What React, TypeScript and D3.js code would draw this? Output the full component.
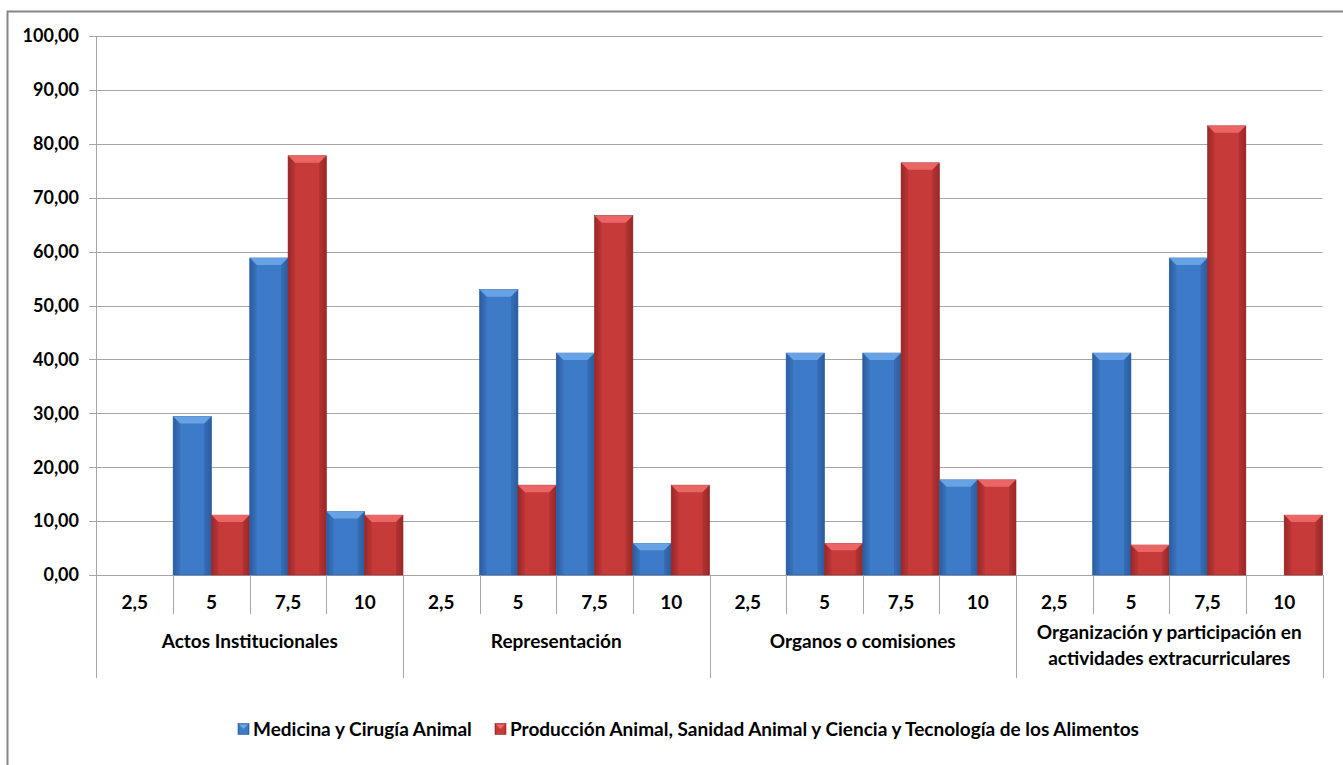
import React from "react";
import * as d3 from "d3";

const groups = [
  ["Actos Institucionales"],
  ["Representación"],
  ["Organos o comisiones"],
  ["Organización y participación en", "actividades extracurriculares"],
];
const subcats = ["2,5", "5", "7,5", "10"];
const seriesNames = [
  "Medicina y Cirugía Animal",
  "Producción Animal, Sanidad Animal y Ciencia y Tecnología de los Alimentos",
];
// values per group, per subcategory
const medicina = [
  [0, 29.41, 58.82, 11.76],
  [0, 52.94, 41.18, 5.88],
  [0, 41.18, 41.18, 17.65],
  [0, 41.18, 58.82, 0],
];
const produccion = [
  [0, 11.11, 77.78, 11.11],
  [0, 16.67, 66.67, 16.67],
  [0, 5.88, 76.47, 17.65],
  [0, 5.56, 83.33, 11.11],
];
const yTicks = [0, 10, 20, 30, 40, 50, 60, 70, 80, 90, 100];

const W = 1343;
const H = 765;
const left = 96.5;
const right = 1322.5;
const top = 36;
const bottom = 575;
const font = "Lato, 'Open Sans', sans-serif";

export default function App() {
  const y = d3.scaleLinear().domain([0, 100]).range([bottom, top]);
  const gx = d3
    .scaleBand<number>()
    .domain(d3.range(groups.length))
    .range([left, right])
    .padding(0);
  const sx = d3
    .scaleBand<number>()
    .domain(d3.range(subcats.length))
    .range([0, gx.bandwidth()])
    .padding(0);
  const bx = d3
    .scaleBand<number>()
    .domain([0, 1])
    .range([0, sx.bandwidth()])
    .padding(0);

  const series = [medicina, produccion];
  const colors = [
    { id: "gBlue", edge: "#2B5C9E", mid: "#3D7BC8", light: "#6CA6E8", stroke: "#2E5F9F" },
    { id: "gRed", edge: "#9A2727", mid: "#C63A3A", light: "#EE6A6A", stroke: "#962A2A" },
  ];

  const bars: JSX.Element[] = [];
  groups.forEach((_, gi) => {
    subcats.forEach((_, si) => {
      series.forEach((s, k) => {
        const v = s[gi][si];
        if (v <= 0) return;
        const x0 = (gx(gi) as number) + (sx(si) as number) + (bx(k) as number);
        const w = bx.bandwidth();
        const y0 = y(v);
        const h = y(0) - y0;
        const bev = Math.min(7, h / 2);
        const c = colors[k];
        bars.push(
          <g key={`${gi}-${si}-${k}`}>
            <rect x={x0} y={y0} width={w} height={h} fill={`url(#${c.id})`} stroke={c.stroke} strokeWidth={0.6} />
            <path
              d={`M${x0},${y0} L${x0 + w},${y0} L${x0 + w - bev},${y0 + bev} L${x0 + bev},${y0 + bev} Z`}
              fill={c.light}
              opacity={0.9}
            />
            <path
              d={`M${x0},${y0} L${x0 + bev},${y0 + bev} L${x0 + bev},${y0 + h} L${x0},${y0 + h} Z`}
              fill={c.edge}
              opacity={0.35}
            />
            <path
              d={`M${x0 + w},${y0} L${x0 + w - bev},${y0 + bev} L${x0 + w - bev},${y0 + h} L${x0 + w},${y0 + h} Z`}
              fill={c.edge}
              opacity={0.5}
            />
          </g>
        );
      });
    });
  });

  return (
    <svg width={W} height={H} style={{ position: "absolute", left: 0, top: 0, background: "#fff" }}>
      <defs>
        {colors.map((c) => (
          <linearGradient key={c.id} id={c.id} x1="0" x2="1" y1="0" y2="0">
            <stop offset="0" stopColor={c.edge} />
            <stop offset="0.15" stopColor={c.mid} />
            <stop offset="0.85" stopColor={c.mid} />
            <stop offset="1" stopColor={c.edge} />
          </linearGradient>
        ))}
      </defs>
      <rect x={7.5} y={11.5} width={W} height={H} fill="none" stroke="#868686" strokeWidth={2} />
      {/* gridlines and y labels */}
      {yTicks.map((t) => (
        <g key={t}>
          <line x1={89} x2={right} y1={Math.round(y(t)) + 0.5} y2={Math.round(y(t)) + 0.5} stroke="#A6A6A6" strokeWidth={1} />
          <text
            x={79}
            y={y(t)}
            dy="0.35em"
            textAnchor="end"
            fontFamily={font}
            fontWeight="bold"
            fontSize={18}
            fill="#000"
          >
            {d3.format(".2f")(t).replace(".", ",")}
          </text>
        </g>
      ))}
      {/* y axis */}
      <line x1={left} x2={left} y1={top} y2={678} stroke="#A6A6A6" strokeWidth={1} />
      {bars}
      {/* category axis separators */}
      {groups.map((g, gi) => {
        const gx0 = gx(gi) as number;
        return (
          <g key={gi}>
            {subcats.map((s, si) => {
              const sx0 = gx0 + (sx(si) as number);
              return (
                <g key={si}>
                  {si > 0 && (
                    <line x1={Math.round(sx0) + 0.5} x2={Math.round(sx0) + 0.5} y1={bottom} y2={614} stroke="#A6A6A6" />
                  )}
                  <text
                    x={sx0 + sx.bandwidth() / 2}
                    y={602}
                    dy="0.35em"
                    textAnchor="middle"
                    fontFamily={font}
                    fontWeight="bold"
                    fontSize={19}
                  >
                    {s}
                  </text>
                </g>
              );
            })}
            <line
              x1={Math.round(gx0 + gx.bandwidth()) + 0.5}
              x2={Math.round(gx0 + gx.bandwidth()) + 0.5}
              y1={bottom}
              y2={678}
              stroke="#A6A6A6"
            />
            {g.map((line, li) => (
              <text
                key={li}
                x={gx0 + gx.bandwidth() / 2}
                y={g.length === 1 ? 641 : 632 + li * 26}
                dy="0.35em"
                textAnchor="middle"
                fontFamily={font}
                fontWeight="bold"
                fontSize={19}
              >
                {line}
              </text>
            ))}
          </g>
        );
      })}
      {/* legend */}
      {(() => {
        const xs = [238, 495];
        return seriesNames.map((n, k) => (
          <g key={k}>
            <rect x={xs[k]} y={723.5} width={11} height={11} fill={`url(#${colors[k].id})`} stroke={colors[k].stroke} strokeWidth={0.6} />
            <path d={`M${xs[k] + 1},${724.5} L${xs[k] + 10},${724.5} L${xs[k] + 5.5},${729} Z`} fill={colors[k].light} />
            <text x={xs[k] + 15} y={729} dy="0.35em" fontFamily={font} fontWeight="bold" fontSize={19}>
              {n}
            </text>
          </g>
        ));
      })()}
    </svg>
  );
}
